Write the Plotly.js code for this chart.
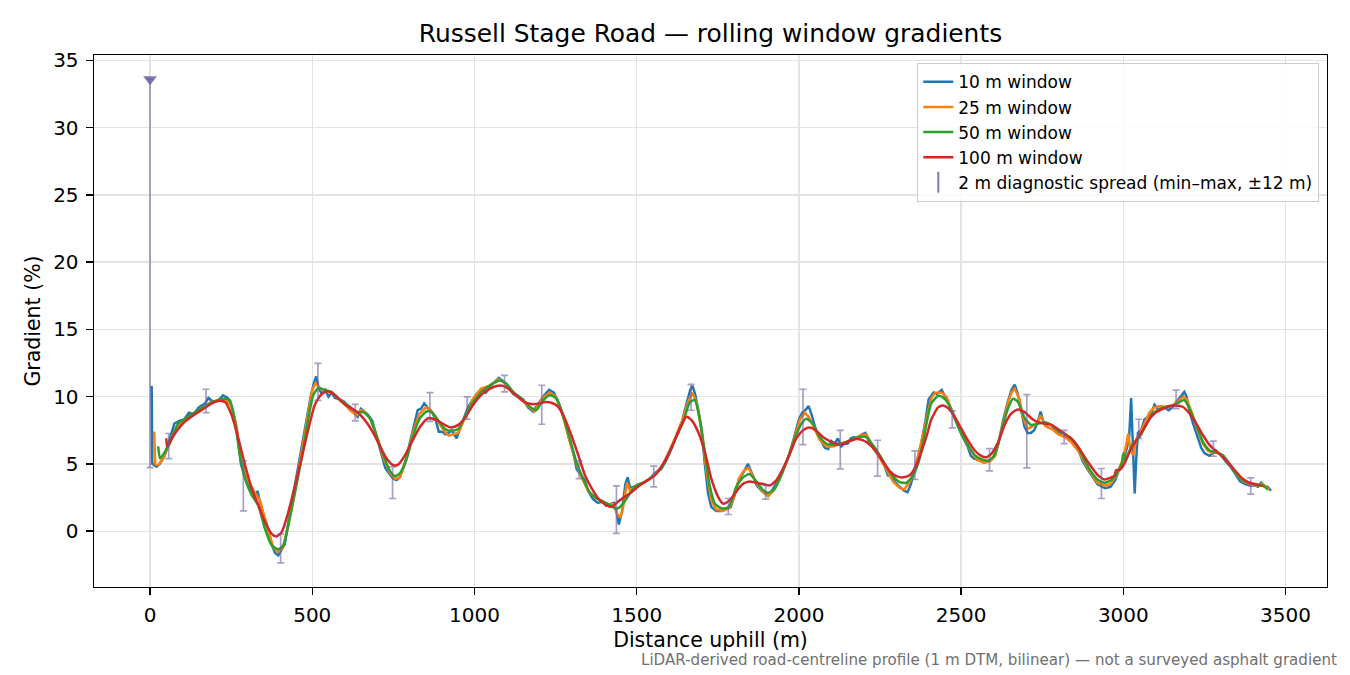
<!DOCTYPE html>
<html>
<head>
<meta charset="utf-8">
<script src="https://cdn.plot.ly/plotly-3.0.1.min.js"></script>
<style>html,body{margin:0;padding:0;background:#fff;}#chart{width:1350px;height:675px;}</style>
</head>
<body>
<div id="chart"></div>
<script>
// ---------- data ----------
const x10 = [5,7,20,30,45,60,75,90,105,120,135,150,170,180,195,210,225,240,255,268,280,290,300,315,325,331,338,345,360,375,385,395,405,415,425,440,460,480,495,505,512,520,530,540,550,560,570,585,600,610,625,640,650,660,670,685,700,715,725,740,750,760,770,785,800,815,825,835,845,855,870,880,890,900,910,920,930,940,945,955,965,980,995,1010,1025,1035,1050,1065,1075,1085,1095,1110,1120,1135,1150,1165,1180,1195,1205,1215,1230,1245,1260,1275,1290,1305,1315,1325,1340,1350,1365,1380,1395,1405,1420,1430,1440,1445,1455,1465,1472,1480,1490,1500,1520,1540,1560,1575,1590,1610,1625,1640,1655,1665,1672,1680,1690,1700,1710,1720,1730,1745,1760,1775,1790,1800,1815,1830,1843,1855,1870,1885,1900,1915,1930,1950,1970,1990,2000,2010,2020,2030,2040,2055,2070,2080,2090,2100,2110,2120,2130,2140,2150,2160,2170,2180,2195,2205,2215,2228,2240,2250,2265,2275,2285,2295,2310,2325,2335,2345,2360,2375,2390,2400,2415,2425,2440,2450,2460,2475,2490,2505,2520,2530,2540,2555,2570,2585,2600,2615,2630,2645,2655,2665,2675,2685,2695,2705,2715,2725,2735,2745,2755,2770,2785,2800,2815,2830,2845,2860,2875,2890,2905,2920,2935,2945,2960,2975,2990,3000,3010,3018,3024,3030,3035,3040,3045,3055,3065,3085,3096,3110,3125,3140,3155,3170,3188,3195,3205,3215,3230,3240,3250,3265,3275,3285,3300,3315,3330,3345,3360,3375,3390,3405,3415,3425,3435,3445,3455];
const g10 = [10.8,5.0,4.8,5.0,5.6,6.8,8.0,8.2,8.3,8.8,8.7,9.2,9.5,9.9,9.6,9.7,10.1,9.9,9.0,7.5,5.0,4.2,3.5,3.0,2.6,3.0,2.3,1.5,0.5,-1.0,-1.6,-1.8,-1.4,-1.0,0.5,2.5,5.2,8.0,10.0,11.0,11.5,10.6,10.2,10.5,10.0,10.3,9.9,9.8,9.6,9.2,8.9,8.5,9.1,8.9,8.7,8.2,6.9,5.4,4.7,4.2,3.9,3.8,4.0,5.0,6.5,8.2,9.0,9.1,9.5,9.2,8.8,8.3,7.4,7.4,7.2,7.3,7.5,7.1,6.9,7.6,8.3,9.2,9.8,10.3,10.5,10.3,10.8,11.2,11.4,11.2,11.0,10.5,10.2,10.0,9.8,9.2,8.9,9.4,9.8,10.1,10.5,10.3,9.5,8.5,7.0,5.8,4.6,4.3,3.8,3.0,2.4,2.1,2.2,1.9,2.0,2.1,1.2,0.5,1.5,3.5,4.0,3.2,3.3,3.4,3.6,3.9,4.4,4.6,5.2,6.3,7.2,8.2,9.6,10.5,10.8,10.2,9.0,7.5,5.0,2.8,1.8,1.5,1.5,1.7,1.8,2.6,3.8,4.4,5.0,4.3,3.4,3.0,2.7,2.9,3.6,4.5,5.6,7.3,8.3,8.8,9.0,9.3,8.6,7.3,6.6,6.2,6.1,6.7,6.5,6.9,6.3,6.5,6.5,6.9,7.0,6.9,7.2,7.3,6.7,6.2,5.8,5.5,4.8,4.1,4.4,3.7,3.3,3.0,2.9,3.5,5.0,6.3,8.2,9.8,10.3,10.2,10.5,10.1,9.6,8.8,7.8,7.0,6.3,5.6,5.4,5.3,5.1,5.2,5.5,6.5,8.3,9.7,10.5,10.9,10.2,9.0,7.8,7.3,7.3,7.5,8.0,8.9,8.0,7.7,7.6,7.3,7.3,7.0,6.5,6.1,5.2,4.6,4.0,3.5,3.3,3.2,3.3,3.8,4.8,5.3,6.1,7.0,9.9,6.0,2.8,5.5,7.3,7.5,8.3,8.7,9.4,9.0,9.2,9.0,9.3,9.8,10.35,10.0,8.8,8.0,7.0,6.2,5.8,5.6,5.8,6.0,5.7,5.2,4.8,4.2,3.7,3.5,3.4,3.4,3.3,3.6,3.3,3.3,3.0];

const x25 = [12.5,16,25,40,60,80,100,120,140,165,190,215,230,250,265,280,300,320,340,360,380,395,410,425,445,465,485,500,510,525,540,560,580,600,616,637,650,665,680,700,720,740,755,770,790,810,830,850,865,885,905,920,935,950,970,995,1020,1045,1075,1095,1115,1140,1165,1185,1210,1232,1250,1270,1290,1310,1330,1350,1370,1395,1415,1430,1440,1450,1460,1470,1480,1500,1520,1540,1560,1580,1600,1620,1640,1660,1672,1685,1700,1715,1730,1745,1765,1785,1800,1815,1830,1845,1869,1890,1905,1925,1946,1967,1987,2003,2018,2030,2043,2064,2085,2105,2126,2157,2187,2208,2228,2249,2270,2290,2311,2325,2345,2365,2385,2408,2420,2440,2455,2470,2490,2510,2530,2550,2570,2590,2605,2625,2645,2655,2665,2680,2690,2705,2720,2735,2745,2760,2780,2800,2820,2840,2860,2880,2900,2920,2940,2960,2980,2995,3008,3015,3022,3030,3040,3050,3065,3080,3095,3115,3135,3150,3170,3185,3195,3210,3225,3245,3260,3275,3290,3310,3330,3350,3370,3390,3410,3430,3450];
const g25 = [7.4,5.0,4.9,5.4,6.5,7.7,8.1,8.5,8.8,9.2,9.6,9.7,9.8,9.3,8.0,5.3,3.9,3.0,2.2,0.4,-1.2,-1.55,-1.2,0.3,2.8,5.6,8.5,10.5,11.0,10.6,10.4,10.3,9.9,9.5,9.0,8.6,9.0,8.8,8.3,7.0,5.4,4.3,3.9,4.0,5.3,7.3,8.7,9.2,9.0,8.2,7.5,7.1,7.2,7.3,8.4,9.8,10.6,10.8,11.3,11.0,10.4,9.9,9.3,8.9,9.9,10.3,10.0,8.8,7.0,5.3,4.0,3.0,2.5,2.2,2.0,2.0,1.3,1.0,2.0,3.6,3.0,3.4,3.6,3.9,4.3,4.9,5.9,7.0,8.2,9.7,10.3,9.5,7.5,4.5,2.3,1.6,1.5,1.7,2.5,3.9,4.5,4.7,3.6,2.9,2.6,3.1,4.2,5.5,7.0,8.3,8.8,8.5,7.9,6.8,6.3,6.3,6.5,6.7,7.1,7.2,6.3,5.5,4.6,3.7,3.2,3.1,3.8,5.3,7.5,9.9,10.3,10.3,10.0,9.0,8.0,6.8,6.0,5.3,5.1,5.2,5.6,7.6,9.6,10.3,10.6,9.8,8.5,7.6,7.8,8.0,8.6,7.8,7.6,7.2,7.0,6.6,6.0,5.1,4.3,3.6,3.4,3.5,4.2,5.1,6.3,7.25,6.0,5.65,6.8,7.2,8.0,8.8,9.2,9.3,9.2,9.3,9.7,10.0,9.8,8.9,7.8,6.5,6.0,5.8,5.9,5.5,4.9,4.2,3.7,3.5,3.4,3.5,3.1];

const x50 = [25,31,46,67,87,110,139,165,190,231,246,262,277,293,313,334,354,375,395,411,426,447,467,488,503,519,539,560,585,601,616,637,657,678,698,719,739,755,770,791,811,832,852,868,888,909,929,950,970,996,1022,1048,1078,1099,1119,1145,1171,1191,1207,1232,1253,1273,1294,1314,1335,1355,1376,1397,1417,1438,1458,1479,1499,1520,1540,1561,1581,1602,1622,1643,1664,1679,1694,1710,1725,1741,1761,1782,1795,1807,1828,1848,1869,1890,1905,1925,1946,1967,1987,2008,2023,2043,2064,2085,2105,2126,2157,2187,2208,2228,2249,2270,2290,2311,2331,2352,2372,2390,2408,2429,2444,2460,2480,2501,2521,2542,2562,2583,2603,2624,2644,2660,2675,2696,2716,2737,2757,2778,2798,2819,2839,2860,2881,2901,2922,2942,2963,2983,2995,3000,3006,3029,3050,3070,3091,3112,3132,3153,3173,3188,3204,3225,3245,3266,3286,3307,3327,3348,3368,3389,3409,3430,3445];
const g50 = [6.3,5.4,5.9,6.9,8.0,8.4,8.85,9.2,9.6,9.85,9.75,8.1,5.65,3.9,2.7,1.9,0.2,-1.05,-1.35,-1.05,0.45,2.9,5.4,8.4,10.1,10.65,10.5,10.35,9.75,9.5,9.25,8.85,8.85,8.4,7.1,5.65,4.5,4.1,4.3,5.4,7.1,8.4,8.9,8.85,8.25,7.6,7.45,7.6,8.5,9.6,10.35,10.85,11.2,10.95,10.35,9.85,9.25,9.0,9.6,10.1,9.85,8.6,6.9,5.15,3.9,2.9,2.45,2.2,1.95,1.65,2.05,2.8,3.4,3.6,3.9,4.3,4.9,5.9,7.0,8.1,9.6,9.75,8.4,5.9,3.4,2.05,1.7,1.75,2.4,3.3,4.0,4.25,3.7,3.05,2.85,3.15,4.15,5.5,6.9,8.0,8.35,8.0,7.0,6.5,6.4,6.45,6.75,7.0,7.0,6.4,5.65,4.8,4.05,3.65,3.6,4.15,5.4,7.6,9.5,10.05,9.95,9.5,8.4,7.25,6.4,5.65,5.35,5.25,5.65,7.4,9.1,9.85,9.6,8.4,7.9,8.0,8.1,7.9,7.5,7.2,6.9,6.25,5.25,4.4,3.8,3.6,3.8,4.4,5.0,5.8,5.3,6.5,7.0,7.9,8.75,9.1,9.25,9.35,9.6,9.75,9.1,7.9,6.65,6.0,5.85,5.65,5.0,4.3,3.8,3.55,3.45,3.4,3.1];

const x100 = [50,53,70,87,110,139,165,190,211,231,252,272,293,313,334,354,375,390,406,426,447,467,488,508,529,549,570,601,637,667,688,709,729,750,765,786,806,832,857,883,909,929,950,970,996,1022,1048,1068,1089,1109,1130,1155,1176,1202,1217,1237,1258,1278,1299,1320,1340,1361,1381,1402,1422,1443,1463,1484,1504,1535,1556,1576,1597,1617,1638,1653,1669,1689,1710,1730,1751,1766,1782,1800,1815,1830,1848,1869,1890,1910,1931,1951,1972,1992,2013,2033,2054,2074,2095,2115,2136,2157,2177,2198,2218,2239,2259,2280,2300,2321,2341,2362,2383,2395,2408,2429,2444,2460,2480,2501,2521,2542,2562,2578,2593,2614,2634,2655,2675,2696,2716,2737,2757,2778,2798,2819,2839,2860,2881,2901,2922,2942,2963,2972,2978,2988,3004,3019,3040,3060,3081,3101,3122,3142,3163,3183,3204,3225,3245,3266,3286,3307,3327,3348,3368,3389,3409,3430];
const g100 = [6.9,6.3,7.0,7.6,8.2,8.7,9.1,9.5,9.7,9.6,8.6,6.9,4.9,3.2,1.9,0.7,-0.2,-0.4,-0.05,1.4,3.4,5.4,7.6,9.4,10.2,10.4,10.1,9.4,8.9,8.1,7.3,6.3,5.4,4.9,4.95,5.65,6.6,7.75,8.4,8.25,7.9,7.7,7.9,8.4,9.4,10.15,10.6,10.8,10.8,10.5,10.05,9.6,9.45,9.5,9.6,9.55,9.25,8.4,7.1,5.65,4.2,3.2,2.45,2.0,1.8,2.2,2.55,2.9,3.3,3.8,4.15,4.8,5.65,6.75,7.9,8.5,8.25,7.4,5.9,3.9,2.55,2.05,2.2,2.7,3.2,3.55,3.7,3.6,3.5,3.4,3.8,4.65,5.75,6.9,7.5,7.7,7.45,7.0,6.7,6.5,6.5,6.7,6.85,6.75,6.45,5.9,5.15,4.45,4.1,4.0,4.15,4.9,6.3,7.2,8.3,9.2,9.35,9.15,8.5,7.6,6.75,6.0,5.6,5.5,5.75,6.6,7.9,8.75,9.05,8.85,8.4,8.1,8.0,7.9,7.6,7.25,6.9,6.3,5.5,4.8,4.15,3.85,4.0,4.1,4.55,4.55,5.05,5.9,6.75,7.5,8.35,8.85,9.1,9.3,9.35,9.25,8.75,8.0,7.15,6.4,5.95,5.5,5.0,4.4,3.9,3.6,3.5,3.35];

// 2 m diagnostic spread: min–max within ±12 m
const spreadX  = [0,57.5,172.5,287.5,402.5,517.5,632.5,747.5,862.5,977.5,1092.5,1207.5,1322.5,1437.5,1552.5,1667.5,1782.5,1897.5,2012.5,2127.5,2242.5,2357.5,2472.5,2587.5,2702.5,2817.5,2932.5,3047.5,3162.5,3277.5,3392.5];
const spreadLo = [4.73,5.4,8.82,1.51,-2.35,9.73,8.2,2.43,8.17,8.32,10.35,7.95,3.91,-0.17,3.29,8.99,1.24,2.38,6.44,4.63,4.09,3.84,7.68,4.48,4.7,6.51,2.43,6.89,9.11,5.57,2.75];
const spreadHi = [33.6,7.26,10.55,5.22,-0.22,12.48,9.43,4.78,10.3,9.98,11.59,10.85,5.22,3.37,4.83,10.92,2.43,3.42,10.55,7.5,6.76,5.97,8.94,6.14,10.15,7.5,4.66,8.32,10.48,6.69,3.96];

const seriesNames = ['10 m window','25 m window','50 m window','100 m window'];
const spreadName = '2 m diagnostic spread (min–max, ±12 m)';
const titleText = 'Russell Stage Road — rolling window gradients';
const xTitle = 'Distance uphill (m)';
const yTitle = 'Gradient (%)';
const noteText = 'LiDAR-derived road-centreline profile (1 m DTM, bilinear) — not a surveyed asphalt gradient';
const xTicks = [0,500,1000,1500,2000,2500,3000,3500];
const yTicks = [0,5,10,15,20,25,30,35];

// ---------- styling ----------
const FONT = 'DejaVu Sans, Arial, sans-serif';
const colors = ['#1f77b4','#ff7f0e','#2ca02c','#d62728'];
const spreadColor = 'rgba(110,95,160,0.6)';
const spreadMarkColor = 'rgba(110,95,160,0.85)';

const lineData = [[x10,g10],[x25,g25],[x50,g50],[x100,g100]];
const traces = lineData.map((d,i)=>({
  type:'scatter', mode:'lines', x:d[0], y:d[1], name:seriesNames[i],
  line:{color:colors[i], width:2.5, shape: i>=2 ? 'spline' : 'linear', smoothing:0.6},
  hoverinfo:'skip'
}));

// legend proxy for the error-bar series
traces.push({
  type:'scatter', mode:'markers', x:[null], y:[null], name:spreadName,
  marker:{symbol:'line-ns-open', size:15, color:spreadMarkColor, line:{width:2, color:spreadMarkColor}},
  showlegend:true
});
// the spread bars themselves
traces.push({
  type:'scatter', mode:'markers', x:spreadX, y:spreadLo, showlegend:false,
  marker:{size:1, color:'rgba(0,0,0,0)'},
  error_y:{type:'data', symmetric:false,
    array:spreadHi.map((h,i)=>h-spreadLo[i]),
    arrayminus:spreadLo.map(()=>0),
    color:spreadColor, thickness:1.7, width:3.5},
  hoverinfo:'skip'
});
// clipped-outlier marker on top of the first spread bar
traces.push({
  type:'scatter', mode:'markers', x:[spreadX[0]], y:[spreadHi[0]], showlegend:false,
  marker:{symbol:'triangle-down', size:12, color:spreadMarkColor},
  hoverinfo:'skip'
});

const axisCommon = {
  showline:true, linecolor:'#000', linewidth:1.4, mirror:true,
  ticks:'outside', ticklen:7, tickwidth:1.4, tickcolor:'#000',
  showgrid:true, gridcolor:'#e3e3e3', gridwidth:1.3,
  zeroline:false, automargin:false,
  tickfont:{family:FONT, size:20, color:'#000'},
  ticklabelstandoff:3
};

const layout = {
  width:1350, height:675,
  margin:{l:94, r:23, t:55, b:88},
  paper_bgcolor:'#fff', plot_bgcolor:'#fff',
  font:{family:FONT, color:'#000'},
  title:{text:titleText, font:{family:FONT, size:24.9, color:'#000'}, x:0.5263, xanchor:'center', y:0.951, yanchor:'middle'},
  xaxis:Object.assign({}, axisCommon, {
    range:[-172.75, 3627.75], tickvals:xTicks, ticktext:xTicks.map(String),
    title:{text:xTitle, font:{family:FONT, size:20.5, color:'#000'}, standoff:6}
  }),
  yaxis:Object.assign({}, axisCommon, {
    range:[-4.15, 35.4], tickvals:yTicks, ticktext:yTicks.map(String),
    title:{text:yTitle, font:{family:FONT, size:20.5, color:'#000'}, standoff:7}
  }),
  legend:{
    x:0.9935, xanchor:'right', y:0.985, yanchor:'top',
    bgcolor:'rgba(255,255,255,0.85)', bordercolor:'#cccccc', borderwidth:1.3,
    font:{family:FONT, size:17, color:'#000'}, tracegroupgap:0
  },
  annotations:[{
    text:noteText, xref:'paper', yref:'paper', x:1.0097, y:-0.137,
    xanchor:'right', yanchor:'middle', showarrow:false,
    font:{family:FONT, size:15.1, color:'#707070'}
  }],
  showlegend:true
};

Plotly.newPlot('chart', traces, layout, {staticPlot:true, displayModeBar:false});
</script>
</body>
</html>
